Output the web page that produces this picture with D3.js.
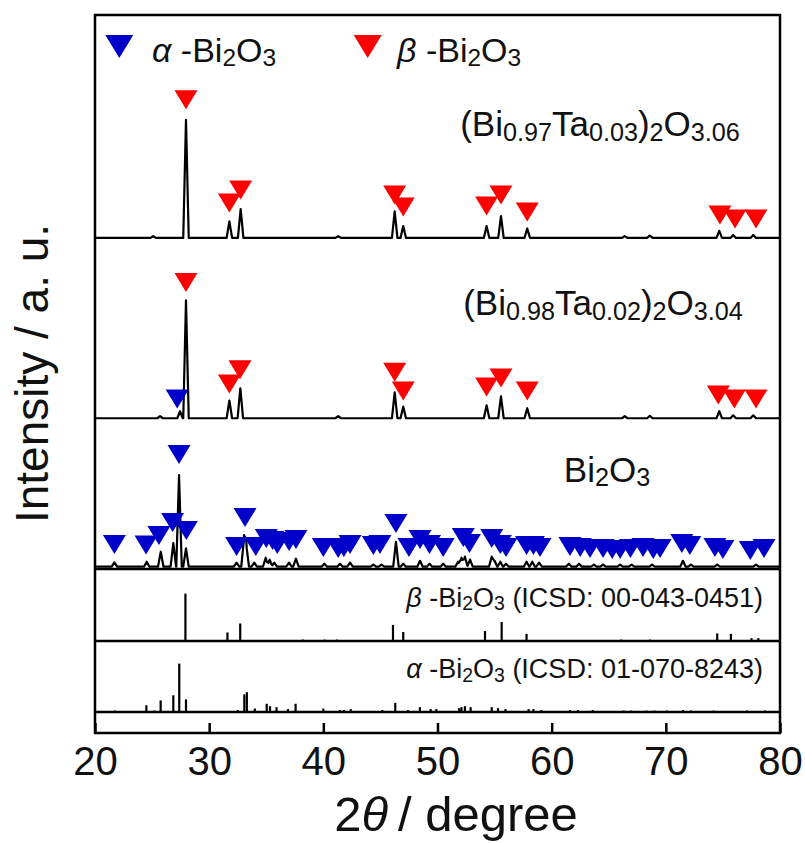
<!DOCTYPE html>
<html>
<head>
<meta charset="utf-8">
<script src="https://cdn.jsdelivr.net/npm/d3@7"></script>
<style>
  body { margin: 0; background: #fff; }
  svg { display: block; }
  text { font-family: "Liberation Sans", Arial, sans-serif; fill: #111; }
</style>
</head>
<body>
<svg id="chart" width="805" height="843"></svg>
<script>
//
// Data
//

var xTicks = [20, 30, 40, 50, 60, 70, 80]

// measured patterns: [2theta, intensity (a.u.)]
var peaksTa03 = [
  [25.1, 1.5], [27.97, 100], [31.77, 14], [32.76, 24.5], [41.3, 1.5],
  [46.25, 22.5], [47.0, 10], [54.3, 10], [55.56, 18.5], [57.86, 8],
  [66.4, 1.5], [68.6, 2], [74.68, 6], [75.9, 2.5], [77.66, 2.5]
]
var peaksTa02 = [
  [25.7, 1.7], [27.45, 6], [27.97, 100], [31.77, 15], [32.73, 25.4],
  [41.3, 1.7], [46.25, 22], [47.0, 9.8], [54.3, 11], [55.56, 18.6],
  [57.86, 8.5], [66.4, 1.7], [68.6, 2], [74.68, 6], [75.9, 2.5], [77.66, 2.5]
]
var peaksBi2O3 = [
  [21.7, 3.7], [24.53, 4.2], [25.76, 12.7], [26.86, 20], [27.36, 77.7],
  [27.97, 15.6], [32.4, 3.4], [33.05, 23.7], [33.25, 18.6], [33.95, 3.4],
  [34.95, 7.6], [35.3, 6], [35.7, 3.4], [36.99, 3.4], [37.6, 6.8],
  [40.09, 2.5], [41.46, 2.5], [42.34, 3.4], [44.38, 1.7], [45.1, 1.7],
  [46.36, 21], [47.0, 2.5], [48.47, 5], [49.3, 2.5], [50.5, 2.5],
  [51.8, 4.2], [52.1, 7.6], [52.4, 8.5], [52.85, 6], [54.75, 8.5],
  [55.0, 5], [55.5, 4.2], [56.0, 2.5], [57.8, 4.2], [58.3, 4.2],
  [58.9, 3.4], [61.5, 2.5], [62.4, 2.5], [63.7, 1.7], [64.5, 1.7],
  [66.0, 1.7], [67.0, 1.7], [68.8, 1.7], [71.5, 5], [72.2, 1.7],
  [74.5, 1.7], [77.9, 1.7]
]

// phase markers: [2theta, level of triangle tip (a.u.)]
var betaMarksTa03 = [
  [27.97, 109], [31.77, 21.6], [32.76, 32.6], [46.25, 28.4], [47.0, 18.2],
  [54.3, 19], [55.56, 28.4], [57.86, 14], [74.74, 11.4], [76.06, 8], [77.9, 8]
]
var betaMarksTa02 = [
  [27.97, 107], [31.77, 21], [32.7, 33], [46.25, 31], [47.0, 15],
  [54.3, 18.5], [55.56, 26], [57.86, 15], [74.6, 11.7], [76.0, 8.3], [77.9, 8.3]
]
var alphaMarksTa02 = [[27.2, 8.3]]
var alphaMarksBi2O3 = [
  [21.7, 10.8], [24.47, 10.3], [25.6, 18.4], [26.8, 29.4], [27.36, 87],
  [28.0, 22.6], [32.4, 9], [33.14, 33.6], [34.08, 9], [35.0, 15.8],
  [35.56, 14.1], [35.97, 10.8], [37.0, 13.3], [37.6, 15], [40.0, 8.2],
  [41.3, 7.4], [41.8, 8.2], [42.34, 10.8], [44.38, 9.9], [44.96, 10.8],
  [46.36, 28.5], [47.5, 8.2], [48.47, 15], [49.3, 10.8], [50.5, 8.2],
  [52.26, 16.7], [52.8, 11.6], [54.75, 15.8], [55.5, 10.8], [56.0, 8.2],
  [57.8, 9.9], [58.4, 9.9], [58.98, 8.2], [61.6, 9], [62.5, 8.2],
  [63.36, 7.4], [64.5, 7.4], [65.3, 6.5], [66.0, 6.5], [66.9, 7.4],
  [68.0, 8.2], [68.9, 6.5], [69.5, 7.4], [71.4, 11.6], [72.1, 9.9],
  [74.3, 8.2], [75.0, 6.5], [77.4, 5.7], [78.6, 7.4]
]

// reference sticks: [2theta, relative intensity]
var refBeta = [
  [27.92, 100], [31.6, 18], [32.72, 37], [38.2, 3], [40.1, 3], [41.2, 3],
  [46.1, 34], [47.0, 19], [54.16, 21], [55.62, 40], [57.8, 15], [66.1, 3],
  [68.6, 3], [74.5, 16], [75.7, 15], [77.5, 6], [78.1, 6]
]
var refAlpha = [
  [21.75, 3], [24.5, 14], [25.2, 3], [25.75, 24], [26.86, 34.5], [27.38, 100],
  [27.97, 26], [32.5, 4], [33.08, 36.5], [33.3, 41], [34.0, 7], [35.04, 17],
  [35.33, 12], [35.9, 10], [36.9, 6], [37.57, 17], [40.0, 7], [41.45, 4],
  [41.8, 4], [42.4, 6], [45.17, 4], [46.3, 19], [47.42, 4], [48.46, 10],
  [49.4, 6], [49.9, 6], [51.9, 8], [52.1, 10], [52.4, 12], [52.9, 10],
  [54.75, 10], [55.3, 8], [55.96, 6], [57.98, 6], [58.4, 6], [59.1, 4],
  [61.6, 4], [62.3, 4], [63.6, 4], [66.3, 3], [66.96, 3], [68.3, 3],
  [69.0, 3], [70.1, 3], [71.5, 4], [72.2, 3], [74.2, 3], [77.1, 3], [78.7, 3]
]

//
// Layout
//

var svg = d3.select('#chart')
var plotLeft = 95, plotRight = 780, plotTop = 15, plotBottom = 733
var sepY = [569, 641, 712]
var colorAlpha = '#0000c8'
var colorBeta = '#ff0000'

var x = d3.scaleLinear().domain([20, 80]).range([plotLeft, plotRight])
// stacked patterns share one intensity scale, each shifted by an offset
var y = d3.scaleLinear().domain([0, 467.5]).range([566.7, plotTop])
var offBi2O3 = 0, offTa02 = 125.8, offTa03 = 278.6
var yBeta = d3.scaleLinear().domain([0, 100]).range([sepY[1], sepY[1] - 47.4])
var yAlpha = d3.scaleLinear().domain([0, 100]).range([sepY[2], sepY[2] - 48.4])

// narrow triangular peak shapes summed at their vertices
function pattern(peaks, hw) {
  var xs = new Set([20, 80])
  peaks.forEach(function (p) {
    xs.add(p[0] - hw); xs.add(p[0]); xs.add(p[0] + hw)
  })
  return Array.from(xs).sort(function (a, b) { return a - b }).map(function (t) {
    var v = d3.sum(peaks, function (p) {
      return Math.max(0, p[1] * (1 - Math.abs(t - p[0]) / hw))
    })
    return [t, v]
  })
}

function drawPattern(peaks, off) {
  var line = d3.line()
    .x(function (d) { return x(d[0]) })
    .y(function (d) { return y(d[1] + off) })
  svg.append('path')
    .datum(pattern(peaks, 0.24))
    .attr('d', line)
    .attr('fill', 'none')
    .attr('stroke', '#000')
    .attr('stroke-width', 2.2)
    .attr('stroke-linejoin', 'round')
}

function tri(cx, tipY, w, h) {
  return 'M' + (cx - w / 2) + ',' + (tipY - h) + 'L' + (cx + w / 2) + ',' + (tipY - h) +
    'L' + cx + ',' + tipY + 'Z'
}

function drawMarks(marks, off, color) {
  svg.append('g').selectAll('path')
    .data(marks)
    .join('path')
    .attr('d', function (d) { return tri(x(d[0]), y(d[1] + off), 23, 19) })
    .attr('fill', color)
}

function drawSticks(sticks, ys) {
  svg.append('g').selectAll('line')
    .data(sticks)
    .join('line')
    .attr('x1', function (d) { return x(d[0]) })
    .attr('x2', function (d) { return x(d[0]) })
    .attr('y1', ys(0))
    .attr('y2', function (d) { return ys(d[1]) })
    .attr('stroke', '#000')
    .attr('stroke-width', 2.2)
}

// text made of parts: n = normal, s = subscript, i = italic
function chem(px, py, parts, size, anchor) {
  var t = svg.append('text')
    .attr('x', px).attr('y', py)
    .attr('font-size', size)
    .attr('text-anchor', anchor || 'start')
  var shift = 0
  parts.forEach(function (p) {
    var s = p[1] === 's' ? size * 0.13 : 0
    var ts = t.append('tspan').text(p[0]).attr('dy', s - shift)
    if (p[1] === 's') ts.attr('font-size', size * 0.72)
    if (p[1] === 'i') ts.attr('font-style', 'italic')
    shift = s
  })
  return t
}

//
// Draw
//

drawPattern(peaksBi2O3, offBi2O3)
drawPattern(peaksTa02, offTa02)
drawPattern(peaksTa03, offTa03)

drawMarks(alphaMarksBi2O3, offBi2O3, colorAlpha)
drawMarks(alphaMarksTa02, offTa02, colorAlpha)
drawMarks(betaMarksTa02, offTa02, colorBeta)
drawMarks(betaMarksTa03, offTa03, colorBeta)

drawSticks(refBeta, yBeta)
drawSticks(refAlpha, yAlpha)

sepY.forEach(function (s) {
  svg.append('line')
    .attr('x1', plotLeft).attr('x2', plotRight).attr('y1', s).attr('y2', s)
    .attr('stroke', '#000').attr('stroke-width', 2.5)
})

svg.append('rect')
  .attr('x', plotLeft).attr('y', plotTop)
  .attr('width', plotRight - plotLeft).attr('height', plotBottom - plotTop)
  .attr('fill', 'none').attr('stroke', '#000').attr('stroke-width', 2.5)

var axis = svg.append('g')
  .attr('transform', 'translate(0,' + plotBottom + ')')
  .call(d3.axisBottom(x).tickValues(xTicks).tickSizeInner(-10).tickSizeOuter(0).tickPadding(14))
axis.select('.domain').remove()
axis.selectAll('line').attr('stroke-width', 2.5)
axis.selectAll('text')
  .attr('font-size', 40)
  .style('font-family', '"Liberation Sans", Arial, sans-serif')
  .attr('fill', '#111')

// legend
svg.append('path').attr('d', tri(119.3, 58, 28, 23)).attr('fill', colorAlpha)
chem(152, 62, [['α', 'i'], [' -Bi', 'n'], ['2', 's'], ['O', 'n'], ['3', 's']], 34)
svg.append('path').attr('d', tri(367.7, 58, 28, 23)).attr('fill', colorBeta)
chem(397, 62, [['β', 'i'], [' -Bi', 'n'], ['2', 's'], ['O', 'n'], ['3', 's']], 34)

// sample labels
chem(600, 136, [['(Bi', 'n'], ['0.97', 's'], ['Ta', 'n'], ['0.03', 's'], [')', 'n'], ['2', 's'], ['O', 'n'], ['3.06', 's']], 35, 'middle')
chem(603, 315, [['(Bi', 'n'], ['0.98', 's'], ['Ta', 'n'], ['0.02', 's'], [')', 'n'], ['2', 's'], ['O', 'n'], ['3.04', 's']], 35, 'middle')
chem(607, 481.7, [['Bi', 'n'], ['2', 's'], ['O', 'n'], ['3', 's']], 35, 'middle')
chem(763, 606.5, [['β', 'i'], [' -Bi', 'n'], ['2', 's'], ['O', 'n'], ['3', 's'], [' (ICSD: 00-043-0451)', 'n']], 27, 'end')
chem(763, 678, [['α', 'i'], [' -Bi', 'n'], ['2', 's'], ['O', 'n'], ['3', 's'], [' (ICSD: 01-070-8243)', 'n']], 27, 'end')

// axis titles
svg.append('text')
  .attr('transform', 'translate(48,373.5) rotate(-90)')
  .attr('text-anchor', 'middle')
  .attr('font-size', 46)
  .text('Intensity / a. u.')
chem(456, 831, [['2', 'n'], ['θ', 'i'], ['\u2009/ degree', 'n']], 49, 'middle')
</script>
</body>
</html>
